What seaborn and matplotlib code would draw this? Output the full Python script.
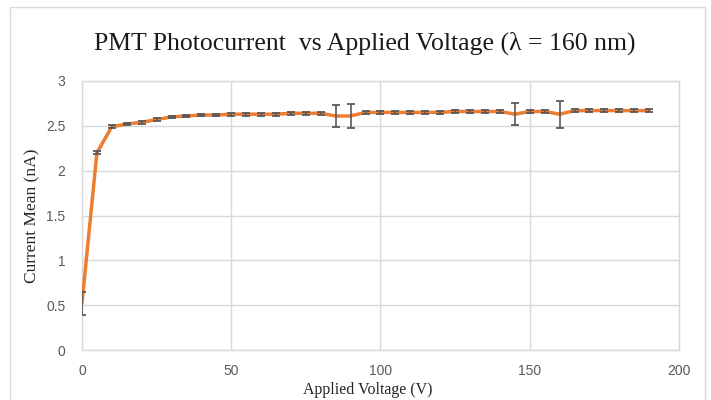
import matplotlib
matplotlib.use("Agg")
import matplotlib.pyplot as plt
import seaborn as sns
import pandas as pd
from matplotlib.patches import Rectangle

# Applied voltage (V) and mean photocurrent (nA) with standard deviation
voltage = [0, 5, 10, 15, 20, 25, 30, 35, 40, 45, 50, 55, 60, 65, 70, 75, 80,
           85, 90, 95, 100, 105, 110, 115, 120, 125, 130, 135, 140, 145, 150,
           155, 160, 165, 170, 175, 180, 185, 190]
current = [0.52, 2.20, 2.49, 2.52, 2.54, 2.57, 2.60, 2.61, 2.62, 2.62, 2.63,
           2.63, 2.63, 2.63, 2.64, 2.64, 2.64, 2.61, 2.61, 2.65, 2.65, 2.65,
           2.65, 2.65, 2.65, 2.66, 2.66, 2.66, 2.66, 2.63, 2.66, 2.66, 2.63,
           2.67, 2.67, 2.67, 2.67, 2.67, 2.67]
current_sd = [0.13, 0.015, 0.015, 0.015, 0.015, 0.015, 0.015, 0.015, 0.015,
              0.015, 0.015, 0.015, 0.015, 0.015, 0.015, 0.015, 0.015, 0.12,
              0.135, 0.015, 0.015, 0.015, 0.015, 0.015, 0.015, 0.015, 0.015,
              0.015, 0.015, 0.12, 0.015, 0.015, 0.15, 0.015, 0.015, 0.015,
              0.015, 0.015, 0.015]
x_ticks = [0, 50, 100, 150, 200]
y_ticks = [0, 0.5, 1, 1.5, 2, 2.5, 3]
y_tick_labels = ["0", "0.5", "1", "1.5", "2", "2.5", "3"]

df = pd.DataFrame({"Voltage": voltage, "Current": current, "SD": current_sd})

sns.set_theme(style="white")
plt.rcParams["font.family"] = ["Liberation Sans", "DejaVu Sans"]
serif = ["Liberation Serif", "DejaVu Serif"]

fig = plt.figure(figsize=(7.11, 4.0), dpi=100)
ax = fig.add_axes([0.1153, 0.125, 0.8397, 0.6725])

sns.lineplot(data=df, x="Voltage", y="Current", ax=ax, color="#ED7D31",
             linewidth=2.5, zorder=3)
ax.errorbar(df["Voltage"], df["Current"], yerr=df["SD"], fmt="none",
            ecolor="#595959", elinewidth=1.2, capsize=3, capthick=1.3,
            zorder=4)

ax.set_xlim(0, 200)
ax.set_ylim(0, 3)
ax.set_xticks(x_ticks)
ax.set_yticks(y_ticks)
ax.set_yticklabels(y_tick_labels)
ax.grid(True, color="#D9D9D9", linewidth=1.0)
for s in ax.spines.values():
    s.set_color("#D9D9D9")
    s.set_linewidth(1.0)
ax.tick_params(axis="x", length=0, labelsize=10, colors="#595959", pad=10)
ax.tick_params(axis="y", length=0, labelsize=10, colors="#595959", pad=12)
ax.set_xlabel("")
ax.set_ylabel("")

fig.text(0.513, 0.875, "PMT Photocurrent  vs Applied Voltage (\u03bb = 160 nm)",
         ha="center", va="baseline", fontsize=18.5, family=serif,
         color="#1a1a1a")
fig.text(0.045, 0.46, "Current Mean (nA)", rotation=90, ha="center",
         va="center", fontsize=12.5, family=serif, color="#262626")
fig.text(0.517, 0.006, "Applied Voltage (V)", ha="center", va="bottom",
         fontsize=11.5, family=serif, color="#262626")

fig.patches.append(Rectangle((0.014, -0.05), 0.978, 1.032, transform=fig.transFigure,
                             fill=False, edgecolor="#D9D9D9", linewidth=1.0))

fig.savefig("out.png", dpi=100, facecolor="white")
